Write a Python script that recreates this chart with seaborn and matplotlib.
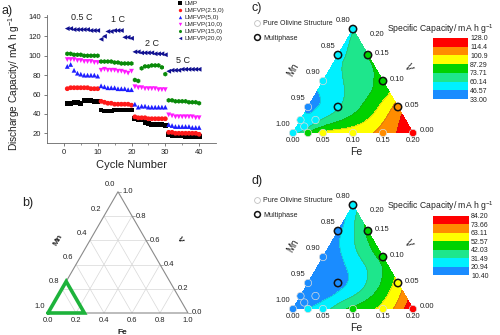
import numpy as np
import pandas as pd
import matplotlib
matplotlib.use("Agg")
import matplotlib.pyplot as plt
import matplotlib.tri as mtri
from matplotlib.colors import ListedColormap, BoundaryNorm
from matplotlib.lines import Line2D
import seaborn as sns

# ---------------- rate capability data ----------------
cycles = list(range(1, 41))
samples = ["LMP", "LMFVP(2.5,0)", "LMFVP(5,0)", "LMFVP(10,0)", "LMFVP(15,0)", "LMFVP(20,0)"]
cap_lmp = [51, 51, 52, 52, 51, 54, 54, 54, 53, 53,
           44, 43, 43, 43, 44, 44, 44, 44, 44, 44,
           35, 34, 34, 31, 30, 29, 29, 29, 29, 28,
           19, 18, 18, 18, 18, 17, 17, 17, 17, 17]
cap_25 = [66, 67, 67, 67, 67, 67, 67, 66, 66, 66,
          53, 52, 51, 51, 50, 50, 50, 50, 50, 49,
          37, 36, 36, 36, 35, 35, 35, 35, 35, 35,
          21, 21, 20, 20, 20, 20, 20, 20, 20, 19]
cap_5 = [89, 91, 85, 82, 81, 80, 80, 80, 80, 79,
         69, 68, 67, 67, 67, 66, 66, 66, 65, 65,
         50, 47, 48, 48, 47, 47, 47, 47, 47, 47,
         29, 28, 27, 27, 27, 27, 27, 26, 26, 26]
cap_10 = [96, 96, 96, 95, 95, 94, 94, 94, 93, 93,
          85, 86, 85, 85, 85, 84, 84, 83, 82, 84,
          68, 67, 67, 66, 66, 66, 66, 65, 65, 65,
          39, 38, 37, 37, 37, 37, 37, 37, 36, 36]
cap_15 = [102, 102, 101, 101, 101, 100, 100, 100, 100, 100,
          94, 94, 94, 94, 93, 93, 92, 92, 92, 92,
          75, 74, 87, 89, 89, 90, 90, 90, 88, 81,
          54, 54, 53, 53, 53, 53, 52, 52, 52, 51]
cap_20 = [128, 128, 127, 127, 127, 127, 127, 126, 126, 126,
          117, 120, 125, 125, 126, 126, 126, 119, 119, 118,
          104, 104, 103, 103, 103, 103, 102, 102, 102, 101,
          84, 85, 85, 85, 86, 86, 86, 86, 86, 86]
rate_labels = ["0.5 C", "1 C", "2 C", "5 C"]

# ---------------- composition map data (Fe, V fractions; Mn = 1 - Fe - V) ----------------
fe_pts = [0.0, 0.0125, 0.0, 0.025, 0.0, 0.0, 0.0, 0.0, 0.05,
          0.025, 0.05, 0.10, 0.15, 0.20, 0.15, 0.10, 0.05]
v_pts = [0.0, 0.0125, 0.025, 0.025, 0.05, 0.10, 0.15, 0.20, 0.05,
         0.0, 0.0, 0.0, 0.0, 0.0, 0.05, 0.10, 0.15]
multiphase = [False, False, False, False, False, False, True, True, True,
              False, False, False, False, False, True, True, True]
cap_map_c = [53, 54, 52, 56, 41, 52, 56, 59, 59,
             76, 90, 95, 106, 125, 107, 77, 74]
cap_map_d = [17, 15, 15, 16, 14, 15, 18, 24, 17,
             22, 27, 45, 56, 84, 57, 46, 45]
levels_c = [33.00, 46.57, 60.14, 73.71, 87.29, 100.9, 114.4, 128.0]
levels_d = [10.40, 20.94, 31.49, 42.03, 52.57, 63.11, 73.66, 84.20]
band_colors = ["#1a8cff", "#00f0ff", "#1ee68c", "#00d200", "#ffff00", "#ff8c00", "#ff0000"]

# ---------------- figure setup ----------------
sns.set_style("ticks")
plt.rcParams["font.family"] = ["Liberation Sans", "DejaVu Sans"]
plt.rcParams["mathtext.default"] = "regular"
W, H = 500, 335
fig = plt.figure(figsize=(W / 100, H / 100), dpi=100)
TXT = "#222222"


def fpx(x, y):
    return x / W, 1 - y / H


def axes_px(L, T, R, B):
    return fig.add_axes([L / W, 1 - B / H, (R - L) / W, (B - T) / H])


def tern_axes(L, T, R, B, ox, oy, scale):
    ax = axes_px(L, T, R, B)
    ax.set_xlim((L - ox) / scale, (R - ox) / scale)
    ax.set_ylim((oy - B) / scale, (oy - T) / scale)
    ax.axis("off")
    return ax


def tern(fe, v):
    fe = np.asarray(fe, float)
    v = np.asarray(v, float)
    return fe + v / 2, v * np.sqrt(3) / 2


# ---------------- panel a ----------------
series = [cap_lmp, cap_25, cap_5, cap_10, cap_15, cap_20]
df = pd.DataFrame({
    "cycle": np.tile(cycles, len(samples)),
    "capacity": np.concatenate(series),
    "sample": np.repeat(samples, len(cycles)),
})
palette = dict(zip(samples, ["#000000", "#ff1a1a", "#1f1fff", "#ff1aff", "#0a8a0a", "#101090"]))
markers = dict(zip(samples, ["s", "o", "^", "v", "h", "<"]))

ax = axes_px(47, 15, 216, 143)
sns.scatterplot(data=df, x="cycle", y="capacity", hue="sample", style="sample",
                palette=palette, markers=markers, s=12, linewidth=0, ax=ax)
ax.set_xlim(-5, 45)
ax.set_ylim(10, 142)
ax.set_xticks([0, 10, 20, 30, 40])
ax.set_xticks([5, 15, 25, 35], minor=True)
ax.set_yticks([20, 40, 60, 80, 100, 120, 140])
sns.despine(ax=ax)
for sp in ax.spines.values():
    sp.set_color("#666666")
    sp.set_linewidth(0.6)
ax.tick_params(axis="both", which="major", length=2.5, width=0.6, color="#666666",
               labelsize=5.5, labelcolor=TXT, pad=1.5)
ax.tick_params(axis="x", which="minor", length=1.5, width=0.5, color="#666666")
ax.set_xlabel("Cycle Number", fontsize=8, color=TXT, labelpad=3)
ax.set_ylabel("Discharge Capacity/ mA h g$^{-1}$", fontsize=7.3, color=TXT)
ax.yaxis.set_label_coords(-0.15, 0.47)
for lab, (lx, ly) in zip(rate_labels, [(5.3, 139), (16, 137), (26, 113), (35.3, 95)]):
    ax.text(lx, ly, lab, fontsize=6.5, color=TXT, ha="center", va="center")
sns.move_legend(ax, "upper left", bbox_to_anchor=fpx(176, 1), bbox_transform=fig.transFigure,
                frameon=False, title=None, fontsize=4.6, handletextpad=0.1,
                labelspacing=0.22, borderaxespad=0, borderpad=0, markerscale=0.7,
                handlelength=1.2)
fig.text(*fpx(1, 11), "a)", fontsize=9, color=TXT, va="center")

# ---------------- panel b: full ternary with the studied region ----------------
bx = tern_axes(0, 172, 250, 335, 48, 313, 140)
corner_fe = [0, 1, 0, 0]
corner_v = [0, 0, 1, 0]
gx, gy = tern(corner_fe, corner_v)
for t in [0.2, 0.4, 0.6, 0.8]:
    for fe_seg, v_seg in [([t, t], [0, 1 - t]), ([0, 1 - t], [t, t]), ([1 - t, 0], [0, 1 - t])]:
        lx, ly = tern(fe_seg, v_seg)
        bx.plot(lx, ly, color="#d8d8d8", lw=0.5, zorder=1)
bx.plot(gx, gy, color="#8a8a8a", lw=0.8, zorder=2)
ticks_b = [0.0, 0.2, 0.4, 0.6, 0.8, 1.0]
for t in ticks_b:
    # bottom (Fe)
    px_, py_ = tern(t, 0)
    bx.annotate(f"{t:.1f}", (px_, py_), xytext=(0, -7), textcoords="offset pixels",
                ha="center", va="center", fontsize=5.5, color=TXT)
    # left (Mn)
    px_, py_ = tern(0, 1 - t)
    bx.annotate(f"{t:.1f}", (px_, py_), xytext=(-8, 7), textcoords="offset pixels",
                ha="center", va="center", fontsize=5.5, color=TXT)
    # right (V)
    px_, py_ = tern(1 - t, t)
    bx.plot([px_, px_ + 0.02], [py_, py_], color="#8a8a8a", lw=0.5)
    bx.annotate(f"{t:.1f}", (px_, py_), xytext=(4, 0), textcoords="offset pixels",
                ha="left", va="center", fontsize=5.5, color=TXT)
reg = 0.26
rx, ry = tern([0, reg, 0, 0], [0, 0, reg, 0])
bx.plot(rx, ry, color="#1db33b", lw=2.6, solid_joinstyle="miter", zorder=4, clip_on=False)
bx.text(0.071, 0.521, "Mn", rotation=60, fontsize=6, fontweight="bold", color=TXT,
        ha="center", va="center")
bx.text(0.943, 0.521, "V", rotation=-60, fontsize=6, fontweight="bold", color=TXT,
        ha="center", va="center")
bx.text(0.529, -0.136, "Fe", fontsize=6, fontweight="bold", color=TXT, ha="center", va="center")
fig.text(*fpx(22, 203), "b)", fontsize=9, color=TXT, va="center")

# ---------------- panels c and d: capacity maps ----------------
cmap = ListedColormap(band_colors)


def draw_map(ax, cax, values, levels, tag, tag_y, dy):
    values = np.asarray(values, float)
    x, y = tern(fe_pts, v_pts)
    tri = mtri.Triangulation(x, y)
    interp = mtri.CubicTriInterpolator(tri, values, kind="min_E")
    tri_f, z_f = mtri.UniformTriRefiner(tri).refine_field(values, interp, subdiv=4)
    z_f = np.clip(z_f, levels[0], levels[-1])
    norm = BoundaryNorm(levels, cmap.N)
    cf = ax.tricontourf(tri_f, z_f, levels=levels, cmap=cmap, norm=norm, zorder=1)
    ax.tricontour(tri_f, z_f, levels=levels[1:-1], colors="#505050", linewidths=0.3,
                  alpha=0.5, zorder=2)
    edge = ["#111111" if m else "#dcdcdc" for m in multiphase]
    lw = [1.1 if m else 0.5 for m in multiphase]
    ax.scatter(x, y, c=values, cmap=cmap, norm=norm, s=28, edgecolors=edge,
               linewidths=lw, zorder=5, clip_on=False)

    lab = dict(fontsize=5.5, color=TXT)
    for t in [0.0, 0.05, 0.10, 0.15, 0.20]:
        px_, py_ = tern(t, 0)
        ax.annotate(f"{t:.2f}", (px_, py_), xytext=(0, -7), textcoords="offset pixels",
                    ha="center", va="center", **lab)
        px_, py_ = tern(0, t)
        ax.annotate(f"{1 - t:.2f}", (px_, py_), xytext=(-10, 9), textcoords="offset pixels",
                    ha="center", va="center", **lab)
        px_, py_ = tern(0.2 - t, t)
        ax.annotate(f"{t:.2f}", (px_, py_), xytext=(7 if t < 0.2 else 17, 2 if t < 0.2 else -5),
                    textcoords="offset pixels", ha="left", va="center", **lab)
    ax.text(0.0, 0.105, "Mn", rotation=60, fontsize=7, color=TXT, ha="center", va="center")
    ax.text(0.192, 0.110, "V", rotation=-60, fontsize=7, color=TXT, ha="center", va="center")
    ax.text(0.105, -0.032, "Fe", fontsize=7.5, color=TXT, ha="center", va="center")

    handles = [Line2D([], [], marker="o", ls="none", mfc="white", mec="#c0c0c0", ms=4.2, mew=0.6),
               Line2D([], [], marker="o", ls="none", mfc="white", mec="#111111", ms=4.2, mew=1.1)]
    ax.legend(handles, ["Pure Olivine Structure", "Multiphase"], loc="upper left",
              bbox_to_anchor=fpx(254, 20 + dy), bbox_transform=fig.transFigure,
              frameon=False, fontsize=5.0, handletextpad=0.3, labelspacing=1.1,
              borderaxespad=0, borderpad=0, handlelength=1.0, labelcolor=TXT)

    cb = fig.colorbar(cf, cax=cax, ticks=levels)
    cb.ax.set_yticklabels([f"{v:#.4g}" for v in levels])
    cb.outline.set_visible(False)
    cax.tick_params(length=0, labelsize=5, pad=1.5, labelcolor=TXT)
    fig.text(*fpx(387, 29 + dy), "Specific Capacity/ mA h g$^{-1}$", fontsize=6.2,
             color=TXT, va="center")
    fig.text(*fpx(252, tag_y), tag, fontsize=9, color=TXT, va="center")


cx = tern_axes(255, 0, 430, 165, 293, 133, 600)
cax_c = axes_px(433, 38, 468, 99)
draw_map(cx, cax_c, cap_map_c, levels_c, "c)", 8, 0)

dx = tern_axes(255, 172, 430, 335, 293, 309, 600)
cax_d = axes_px(433, 216, 469, 275)
draw_map(dx, cax_d, cap_map_d, levels_d, "d)", 181, 177)

fig.savefig("out.png", dpi=100)
